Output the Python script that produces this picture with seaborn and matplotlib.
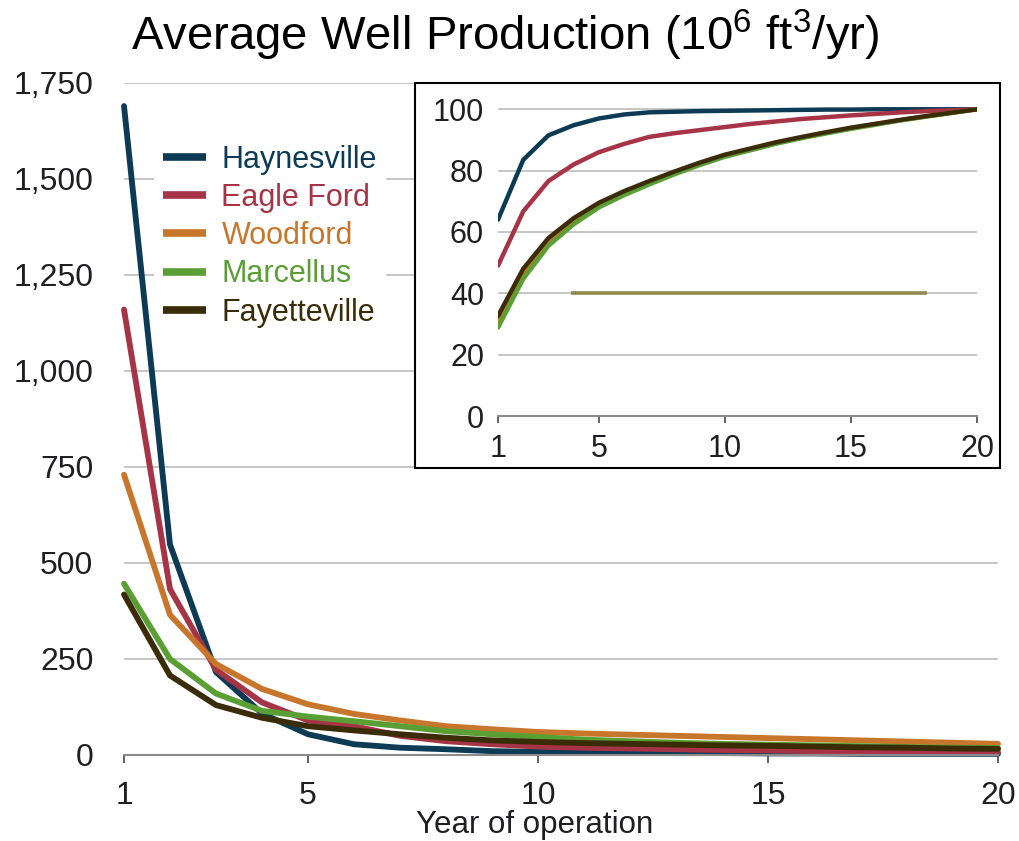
import matplotlib
matplotlib.use("Agg")
import matplotlib.pyplot as plt
from matplotlib.patches import Rectangle
from matplotlib.ticker import FuncFormatter
import numpy as np
import pandas as pd
import seaborn as sns

# ---- data -------------------------------------------------------------
years = list(range(1, 21))
plays = ["Haynesville", "Eagle Ford", "Woodford", "Marcellus", "Fayetteville"]

# average annual production per well (10^6 ft^3/yr)
haynesville = [1690, 548, 216, 108, 54, 28, 19, 15, 10, 8, 7, 6, 6, 5, 4, 4, 3, 3, 3, 3]
eagle_ford = [1160, 432, 222, 137, 90, 75, 50, 36, 28, 22, 19, 17, 15, 13, 12, 10, 9, 8, 8, 7]
woodford = [730, 365, 237, 172, 132, 107, 90, 75, 67, 60, 56, 53, 50, 47, 44, 41, 38, 35, 32, 29]
marcellus = [446, 250, 160, 115, 100, 88, 75, 62, 54, 47, 40, 36, 32, 29, 27, 25, 23, 21, 19, 18]
fayetteville = [418, 207, 130, 97, 75, 64, 54, 45, 38, 34, 31, 29, 27, 25, 24, 22, 20, 19, 17, 16]

# cumulative share of 20-year production (%)
cum_haynesville = [64, 83.5, 91.5, 94.8, 97, 98.3, 99, 99.2, 99.4, 99.5, 99.6, 99.7, 99.8, 99.9, 99.9, 100, 100, 100, 100, 100]
cum_eagle_ford = [49, 66.7, 76.6, 82, 86, 88.7, 91, 92.2, 93.2, 94.2, 95.2, 96, 96.8, 97.4, 98, 98.5, 99, 99.4, 99.7, 100]
cum_woodford = [31, 46.5, 57, 63.5, 68.8, 72.7, 76, 79.2, 82.2, 84.8, 86.9, 89, 90.7, 92.3, 93.8, 95.2, 96.5, 97.7, 98.9, 100]
cum_marcellus = [28.8, 44.7, 55.5, 62.5, 68, 72, 75.5, 78.8, 81.8, 84.5, 86.6, 88.7, 90.5, 92.1, 93.6, 95, 96.4, 97.6, 98.8, 100]
cum_fayetteville = [32.6, 48, 58, 64.5, 69.5, 73.3, 76.6, 79.7, 82.6, 85.2, 87.2, 89.2, 90.9, 92.5, 94, 95.3, 96.6, 97.8, 98.9, 100]

# reference level in the inset
ref_level = 40
ref_start, ref_end = 3.9, 18

main_yticks = [0, 250, 500, 750, 1000, 1250, 1500, 1750]
inset_yticks = [0, 20, 40, 60, 80, 100]
xticks = [1, 5, 10, 15, 20]

colors = ["#0d3b56", "#a63446", "#c8762c", "#5a9f34", "#3b2c08"]
palette = dict(zip(plays, colors))

# ---- long-form tables ---------------------------------------------------
annual = pd.DataFrame({
    "year": years * 5,
    "play": np.repeat(plays, len(years)),
    "value": haynesville + eagle_ford + woodford + marcellus + fayetteville,
})
cumulative = pd.DataFrame({
    "year": years * 5,
    "play": np.repeat(plays, len(years)),
    "value": cum_haynesville + cum_eagle_ford + cum_woodford + cum_marcellus + cum_fayetteville,
})

# ---- style --------------------------------------------------------------
sns.set_style("white")
plt.rcParams["font.family"] = ["Liberation Sans", "DejaVu Sans"]
plt.rcParams["mathtext.fontset"] = "custom"
plt.rcParams["mathtext.rm"] = "Liberation Sans"
plt.rcParams["mathtext.default"] = "regular"

text_color = "#1e1e24"
grid_color = "#c2c2c2"
axis_color = "#8c8c8c"
tick_size = 23

W, H = 1019, 841
fig = plt.figure(figsize=(W / 100, H / 100), dpi=100)

# ---- main chart ---------------------------------------------------------
ax = fig.add_axes([124 / W, 1 - 755 / H, 874 / W, 672 / H])
ax.set_zorder(0)
sns.lineplot(data=annual, x="year", y="value", hue="play", hue_order=plays,
             palette=palette, linewidth=4.2, ax=ax, legend=False, clip_on=False)
ax.set_xlim(1, 20)
ax.set_ylim(0, 1750)
ax.set_xticks(xticks)
ax.set_yticks(main_yticks)
ax.yaxis.set_major_formatter(FuncFormatter(lambda v, p: f"{int(v):,}"))
ax.grid(axis="y", color=grid_color, linewidth=1.3)
ax.set_axisbelow(True)
for side in ("top", "right", "left"):
    ax.spines[side].set_visible(False)
ax.spines["bottom"].set_color(axis_color)
ax.spines["bottom"].set_linewidth(1.5)
ax.tick_params(axis="y", length=0, pad=22, labelsize=tick_size, labelcolor=text_color)
ax.tick_params(axis="x", direction="out", length=6, width=1.3, color="#555555",
               pad=13, labelsize=tick_size, labelcolor=text_color, bottom=True)
ax.set_xlabel("Year of operation", fontsize=22.5, color=text_color, labelpad=0)
ax.xaxis.set_label_coords((535 - 124) / 874, -0.082)
ax.set_ylabel("")

handles = [plt.Line2D([0], [0], color=c, linewidth=5.5, solid_capstyle="butt") for c in colors]
leg = ax.legend(handles, plays, loc="upper left", bbox_to_anchor=(0.0346, 0.922),
                fontsize=22, frameon=True, framealpha=1, edgecolor="none",
                facecolor="white", handlelength=1.4, handletextpad=0.5,
                labelspacing=0.27, borderpad=0.3, borderaxespad=0)
for txt, c in zip(leg.get_texts(), colors):
    txt.set_color(c)

# ---- inset: cumulative share ---------------------------------------------
frame = Rectangle((415 / W, 1 - 468 / H), 585 / W, 385 / H, transform=fig.transFigure,
                  facecolor="white", edgecolor="black", linewidth=1.5, zorder=1)
fig.add_artist(frame)

ax_in = fig.add_axes([498 / W, 1 - 416 / H, 479 / W, 319 / H])
ax_in.set_zorder(2)
ax_in.set_facecolor("none")
sns.lineplot(data=cumulative, x="year", y="value", hue="play", hue_order=plays,
             palette=palette, linewidth=3.2, ax=ax_in, legend=False)
ax_in.hlines(ref_level, ref_start, ref_end, color="#8e8a50", linewidth=2.6, zorder=1.5)
ax_in.set_xlim(1, 20)
ax_in.set_ylim(0, 104)
ax_in.set_xticks(xticks)
ax_in.set_yticks(inset_yticks)
ax_in.grid(axis="y", color=grid_color, linewidth=1.3)
ax_in.set_axisbelow(True)
for side in ("top", "right", "left"):
    ax_in.spines[side].set_visible(False)
ax_in.spines["bottom"].set_color(axis_color)
ax_in.spines["bottom"].set_linewidth(1.5)
ax_in.tick_params(axis="y", length=0, pad=10, labelsize=22, labelcolor=text_color)
ax_in.tick_params(axis="x", direction="out", length=5, width=1.3, color="#555555",
                  pad=8, labelsize=22, labelcolor=text_color, bottom=True)
ax_in.set_xlabel("")
ax_in.set_ylabel("")

# ---- title --------------------------------------------------------------
fig.text(505 / W, 1 - 35 / H, r"Average Well Production (10$^{6}$ ft$^{3}$/yr)",
         ha="center", va="center", fontsize=34, color="black")

fig.savefig("out.png", dpi=100, facecolor="white")
